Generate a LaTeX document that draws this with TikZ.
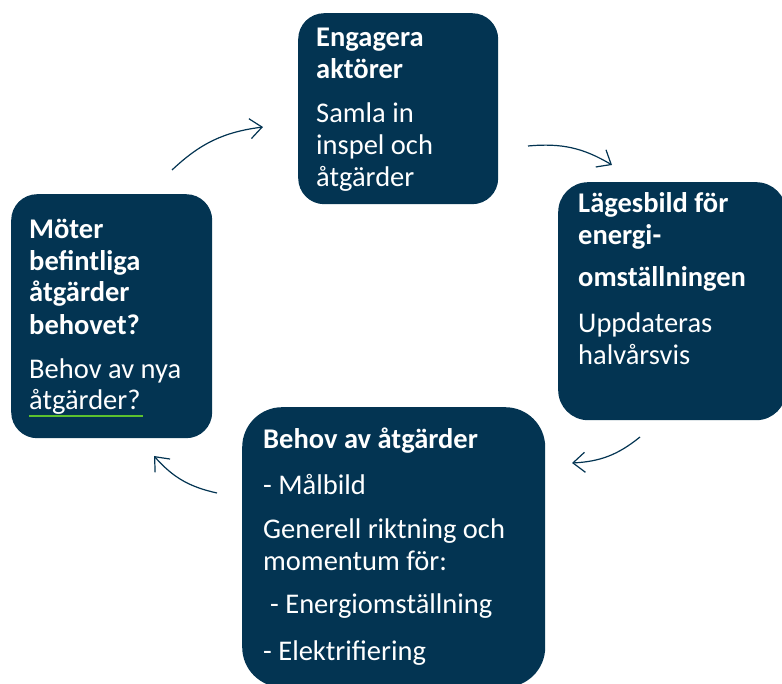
\documentclass[tikz,border=0pt]{standalone}
\usepackage{fontspec}
\setmainfont{Carlito}
\usetikzlibrary{arrows.meta}
\definecolor{navy}{HTML}{033452}
\definecolor{squiggle}{HTML}{5CC12E}
\tikzset{
  card/.style={fill=navy, draw=none, inner sep=0pt, anchor=north west, rounded corners=#1},
  card/.default=26pt,
  cardtext/.style={anchor=base west, inner sep=0pt, text=white, align=left,
    font=\fontsize{28.5}{32}\selectfont},
  cyclearrow/.style={draw=navy, line width=1.2pt, bend left=18,
    -{Straight Barb[length=12pt,width=20pt,line width=1.2pt]}}
}

\begin{document}
\begin{tikzpicture}[x=1pt,y=-1pt]
  \useasboundingbox (0,0) rectangle (782,684);

  %%%%% boxes %%%%%
  \node[card, minimum width=200pt, minimum height=191pt] (engage) at (298,13) {};
  \node[card=30pt, minimum width=228pt, minimum height=238pt] (lage) at (558,182) {};
  \node[card=40pt, minimum width=303pt, minimum height=280pt] (behov) at (242,407) {};
  \node[card, minimum width=201pt, minimum height=244pt] (moter) at (11,194) {};

  %%%%% texts (anchored at the baseline of the last line) %%%%%
  \node[cardtext] (engage-txt) at (316,187)
    {\textbf{Engagera}\\\textbf{aktörer}\\[12pt]Samla in\\inspel och\\åtgärder};
  \node[cardtext] (lage-txt) at (578,365)
    {\textbf{Lägesbild för}\\\textbf{energi-}\\[10pt]\textbf{omställningen}\\[14pt]Uppdateras\\halvårsvis};
  \node[cardtext] (behov-txt) at (263,660)
    {\textbf{Behov av åtgärder}\\[14pt]- Målbild\\[12pt]Generell riktning och\\momentum för:\\[11pt]\hspace*{7pt}- Energiomställning\\[15pt]- Elektrifiering};
  \node[cardtext] (moter-txt) at (29,410)
    {\textbf{Möter}\\\textbf{befintliga}\\\textbf{åtgärder}\\\textbf{behovet?}\\[12pt]Behov av nya\\åtgärder?};
  \draw[squiggle, line width=1.5pt] (29,416) -- (143,416);

  %%%%% arrows %%%%%
  \coordinate (a1) at (172,170); \coordinate (b1) at (263,127);
  \coordinate (a2) at (528,146); \coordinate (b2) at (612,165);
  \coordinate (a3) at (640,437); \coordinate (b3) at (572,463);
  \coordinate (a4) at (217,493); \coordinate (b4) at (154,456);
  \draw[cyclearrow] (a1) to (b1);
  \draw[cyclearrow] (a2) to (b2);
  \draw[cyclearrow] (a3) to (b3);
  \draw[cyclearrow] (a4) to (b4);
\end{tikzpicture}
\end{document}
